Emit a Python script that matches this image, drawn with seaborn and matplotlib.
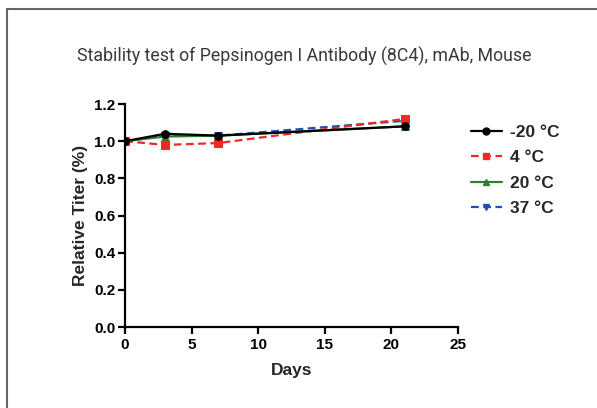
import matplotlib
matplotlib.use("Agg")
import matplotlib.pyplot as plt
from matplotlib.lines import Line2D
import seaborn as sns
import pandas as pd

days = [0, 3, 7, 21]
series_names = ["-20 °C", "4 °C", "20 °C", "37 °C"]
titer_m20 = [1.00, 1.04, 1.03, 1.08]
titer_4 = [1.00, 0.98, 0.99, 1.12]
titer_20 = [1.00, 1.025, 1.03, 1.08]
titer_37 = [1.00, 1.03, 1.03, 1.11]
x_ticks = [0, 5, 10, 15, 20, 25]
y_ticks = [0.0, 0.2, 0.4, 0.6, 0.8, 1.0, 1.2]

sns.set_theme(style="ticks")
plt.rcParams['font.family'] = ['Liberation Sans', 'DejaVu Sans']

values = {"-20 °C": titer_m20, "4 °C": titer_4, "20 °C": titer_20, "37 °C": titer_37}
rows = []
for name in series_names:
    for d, v in zip(days, values[name]):
        rows.append({"Days": d, "Titer": v, "Series": name})
df = pd.DataFrame(rows)

styles = {
    "-20 °C": dict(color="#000000", ls="-", marker="o", ms=5.5),
    "4 °C": dict(color="#ee2a24", ls=(0, (3.5, 2)), marker="s", ms=5.5),
    "20 °C": dict(color="#2e7d32", ls="-", marker="^", ms=5.5),
    "37 °C": dict(color="#1f4fb0", ls=(0, (3.5, 2)), marker="v", ms=5.5),
}

fig = plt.figure(figsize=(5.97, 4.08), dpi=100)
ax = fig.add_axes([0.2094, 0.1985, 0.767 - 0.2094, 0.745 - 0.1985])

for name in ["37 °C", "20 °C", "4 °C", "-20 °C"]:
    st = styles[name]
    sub = df[df["Series"] == name]
    sns.lineplot(data=sub, x="Days", y="Titer", ax=ax, color=st["color"],
                 linestyle=st["ls"], marker=st["marker"], markersize=st["ms"],
                 markeredgecolor=st["color"], linewidth=1.6, legend=False)

ax.set_xlim(0, 25)
ax.set_ylim(0, 1.2)
ax.set_xticks(x_ticks)
ax.set_yticks(y_ticks)
ax.set_xticklabels([str(t) for t in x_ticks], fontsize=11, fontweight="bold")
ax.set_yticklabels([f"{t:.1f}" for t in y_ticks], fontsize=11, fontweight="bold")
ax.set_xlabel("Days", fontsize=12.5, fontweight="bold", labelpad=8)
ax.set_ylabel("Relative Titer (%)", fontsize=12.5, fontweight="bold", labelpad=4)
for s in ["top", "right"]:
    ax.spines[s].set_visible(False)
for s in ["left", "bottom"]:
    ax.spines[s].set_linewidth(1.6)
    ax.spines[s].set_color("black")
ax.tick_params(axis="both", width=1.6, length=5, color="black", pad=2, labelcolor="black")
ax.tick_params(axis="x", pad=3)
ax.patch.set_alpha(0)

handles = []
for name in series_names:
    st = styles[name]
    handles.append(Line2D([], [], color=st["color"], linestyle=st["ls"], marker=st["marker"],
                          markersize=5, linewidth=1.6))
leg = fig.legend(handles, series_names, loc="upper left", bbox_to_anchor=(0.762, 0.733),
                 frameon=False, prop={"weight": "bold", "size": 12.5}, handlelength=1.8,
                 labelspacing=0.6, handletextpad=0.5)

fig.text(0.51, 0.862, "Stability test of Pepsinogen I Antibody (8C4), mAb, Mouse",
         ha="center", va="center", fontsize=12.8, color="#3a3a3a", family=["Roboto", "DejaVu Sans"])

# card border
fig.add_artist(Line2D([7 / 597, 7 / 597], [0, 1 - 9 / 408], transform=fig.transFigure,
                      color="#666666", linewidth=1.5))
fig.add_artist(Line2D([7 / 597, 1], [1 - 9 / 408, 1 - 9 / 408], transform=fig.transFigure,
                      color="#666666", linewidth=1.5))

fig.savefig("out.png", dpi=100)
